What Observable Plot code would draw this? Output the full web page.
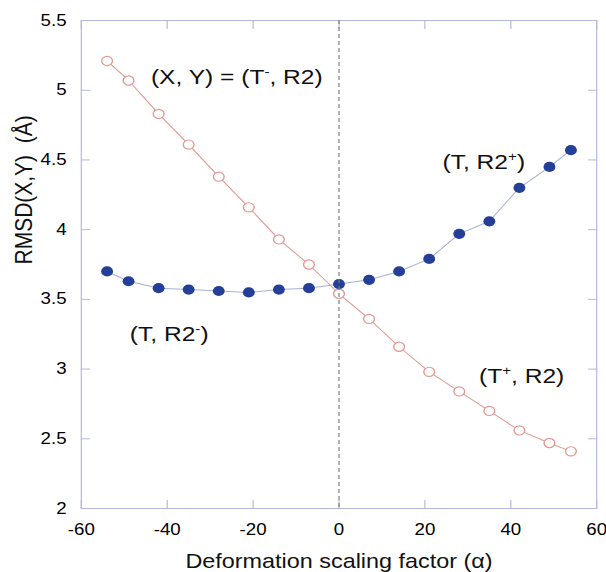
<!DOCTYPE html>
<html>
<head>
<meta charset="utf-8">
<script src="https://cdn.jsdelivr.net/npm/d3@7"></script>
<script src="https://cdn.jsdelivr.net/npm/@observablehq/plot@0.6"></script>
<style>
  html, body { margin: 0; padding: 0; background: #fff; }
  #chart { width: 606px; height: 572px; overflow: hidden; }
</style>
</head>
<body>
<div id="chart"></div>
<script>
// ---- data ----
const alpha = [-54, -49, -42, -35, -28, -21, -14, -7, 0, 7, 14, 21, 28, 35, 42, 49, 54];
const rmsdOpen = [5.21, 5.07, 4.83, 4.61, 4.38, 4.16, 3.93, 3.75, 3.54, 3.36, 3.16, 2.98, 2.84, 2.70, 2.56, 2.47, 2.41];
const rmsdFilled = [3.70, 3.63, 3.58, 3.57, 3.56, 3.55, 3.57, 3.58, 3.61, 3.64, 3.70, 3.79, 3.97, 4.06, 4.30, 4.45, 4.57];
const xTicks = [-60, -40, -20, 0, 20, 40, 60];
const yTicks = [2, 2.5, 3, 3.5, 4, 4.5, 5, 5.5];
const labelText = ["(X, Y) = (T\u207B, R2)", "(T, R2\u207A)", "(T, R2\u207B)", "(T\u207A, R2)"];
const labelX = [-43.8, 24.1, -48.7, 32.6];
const labelY = [5.09, 4.48, 3.25, 2.95];
const xTitle = "Deformation scaling factor (\u03B1)";
const yTitle = "RMSD(X,Y)  (\u00C5)";

// ---- derived tables ----
const openData = alpha.map((a, i) => ({a, v: rmsdOpen[i]}));
const filledData = alpha.map((a, i) => ({a, v: rmsdFilled[i]}));
const labels = labelText.map((t, i) => ({t, x: labelX[i], y: labelY[i]}));

const stretch = 1.17;              // the reference is stretched horizontally
const W = Math.round(606 / stretch);
const frameColor = "#b3b7da";
const redColor = "#e29a93";
const blueFill = "#243f98";
const blueLine = "#a9b0d8";

const svg = Plot.plot({
  width: W,
  height: 572,
  marginLeft: 69,
  marginRight: 8.5,
  marginTop: 20,
  marginBottom: 64,
  style: {fontFamily: "'Liberation Sans', Arial, sans-serif", fontSize: "16px", color: "#000", background: "#fff"},
  x: {domain: [-60, 60]},
  y: {domain: [2, 5.5]},
  marks: [
    Plot.frame({stroke: frameColor}),
    Plot.axisX(xTicks, {anchor: "bottom", tickSize: -8, tickPadding: 23, stroke: frameColor, fill: "#000", label: null, tickFormat: d => String(d), fontSize: 16}),
    Plot.axisX(xTicks, {anchor: "top", tickSize: -8, stroke: frameColor, label: null, tickFormat: () => ""}),
    Plot.axisY(yTicks, {anchor: "left", tickSize: -8, tickPadding: 20.6, stroke: frameColor, fill: "#000", label: null, tickFormat: d => String(d), fontSize: 16}),
    Plot.axisY(yTicks, {anchor: "right", tickSize: -8, stroke: frameColor, label: null, tickFormat: () => ""}),
    Plot.line(openData, {x: "a", y: "v", stroke: redColor, strokeWidth: 1}),
    Plot.dot(openData, {x: "a", y: "v", r: 4.6, stroke: redColor, strokeWidth: 1.2, fill: "#fff"}),
    Plot.line(filledData, {x: "a", y: "v", stroke: blueLine, strokeWidth: 1}),
    Plot.dot(filledData, {x: "a", y: "v", r: 5.1, fill: blueFill, stroke: "none"}),
    Plot.ruleX([0], {stroke: "#7a7a7a", strokeDasharray: "4,3", strokeWidth: 1}),
    Plot.text(labels, {x: "x", y: "y", text: "t", textAnchor: "start", lineAnchor: "middle", fontSize: 21, fill: "#111"}),
    Plot.text([xTitle], {frameAnchor: "bottom", dy: 59, lineAnchor: "bottom", fontSize: 20, fill: "#111"}),
    Plot.text([yTitle], {frameAnchor: "left", dx: -48.5, rotate: -90, lineAnchor: "middle", fontSize: 21, fill: "#111"})
  ]
});

// render superscript +/- as small raised tspans, like the reference
const NS = "http://www.w3.org/2000/svg";
const supMap = {"\u207B": "-", "\u207A": "+"};
svg.querySelectorAll("text").forEach(el => {
  const s = el.textContent;
  if (!/[\u207A\u207B]/.test(s)) return;
  el.textContent = "";
  let buf = "";
  let raised = false;
  const flush = () => {
    if (!buf) return;
    const t = document.createElementNS(NS, "tspan");
    t.textContent = buf;
    if (raised) { t.setAttribute("dy", "8"); raised = false; }
    el.appendChild(t);
    buf = "";
  };
  for (const ch of s) {
    if (supMap[ch]) {
      flush();
      const t = document.createElementNS(NS, "tspan");
      t.textContent = supMap[ch];
      t.setAttribute("font-size", "13");
      t.setAttribute("dy", raised ? "0" : "-8");
      el.appendChild(t);
      raised = true;
    } else {
      buf += ch;
    }
  }
  flush();
});

svg.style.transform = `scaleX(${stretch})`;
svg.style.transformOrigin = "0 0";
svg.style.maxWidth = "none";
document.getElementById("chart").append(svg);
</script>
</body>
</html>
